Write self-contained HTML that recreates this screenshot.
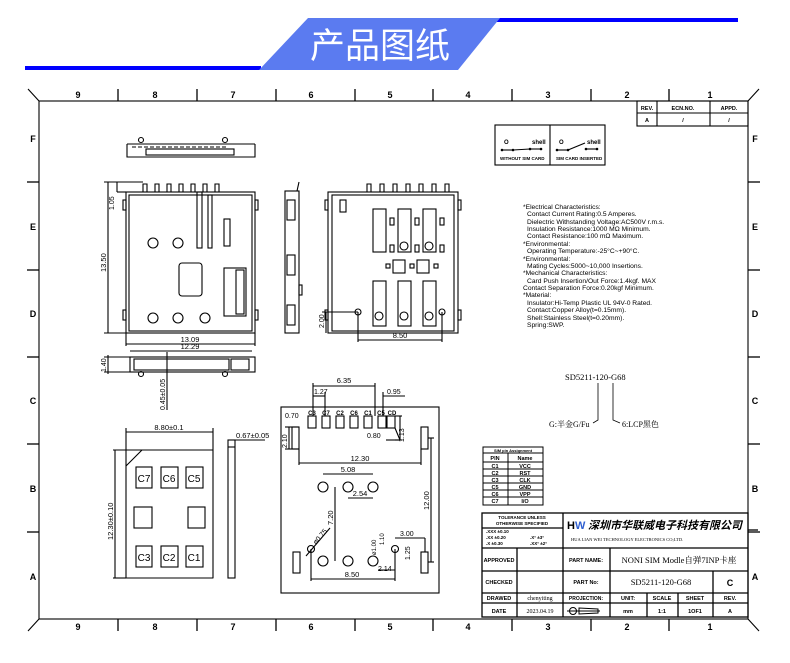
<!DOCTYPE html>
<html><head><meta charset="utf-8"><style>
html,body{margin:0;padding:0;background:#fff;}
svg{display:block;}
text{font-family:"Liberation Sans","Noto Sans CJK SC",sans-serif;fill:#000;}
</style></head><body>
<svg width="790" height="663" viewBox="0 0 790 663" xmlns="http://www.w3.org/2000/svg">
<!-- header -->
<rect x="25" y="66" width="236" height="4" fill="#0000ff"/>
<rect x="488" y="18" width="250" height="4" fill="#0000ff"/>
<polygon points="308,18 500,18 458,70 259,70" fill="#5b7bf0"/>
<text x="380" y="58" font-size="35" text-anchor="middle" style="fill:#fff;font-family:'Noto Sans CJK SC',sans-serif">产品图纸</text>

<g stroke="#000" fill="none" stroke-width="1.1">
<!-- frame -->
<rect x="39" y="101" width="709" height="518"/>
<line x1="28" y1="89" x2="39" y2="101"/><line x1="759" y1="89" x2="748" y2="101"/>
<line x1="28" y1="631" x2="39" y2="619"/><line x1="759" y1="631" x2="748" y2="619"/>
<g stroke-width="1.3">
<line x1="118" y1="89" x2="118" y2="101"/><line x1="197" y1="89" x2="197" y2="101"/><line x1="276" y1="89" x2="276" y2="101"/><line x1="355" y1="89" x2="355" y2="101"/><line x1="433" y1="89" x2="433" y2="101"/><line x1="512" y1="89" x2="512" y2="101"/><line x1="591" y1="89" x2="591" y2="101"/><line x1="669" y1="89" x2="669" y2="101"/>
<line x1="118" y1="619" x2="118" y2="631"/><line x1="197" y1="619" x2="197" y2="631"/><line x1="276" y1="619" x2="276" y2="631"/><line x1="355" y1="619" x2="355" y2="631"/><line x1="433" y1="619" x2="433" y2="631"/><line x1="512" y1="619" x2="512" y2="631"/><line x1="591" y1="619" x2="591" y2="631"/><line x1="669" y1="619" x2="669" y2="631"/>
<line x1="27" y1="182" x2="39" y2="182"/><line x1="27" y1="270" x2="39" y2="270"/><line x1="27" y1="357" x2="39" y2="357"/><line x1="27" y1="444" x2="39" y2="444"/><line x1="27" y1="532" x2="39" y2="532"/>
<line x1="748" y1="182" x2="760" y2="182"/><line x1="748" y1="270" x2="760" y2="270"/><line x1="748" y1="357" x2="760" y2="357"/><line x1="748" y1="444" x2="760" y2="444"/><line x1="748" y1="532" x2="760" y2="532"/>
</g>
<!-- rev table -->
<rect x="637" y="101" width="111" height="25"/>
<line x1="637" y1="113" x2="748" y2="113"/><line x1="657" y1="101" x2="657" y2="126"/><line x1="710" y1="101" x2="710" y2="126"/>
<!-- switch box -->
<rect x="495" y="125" width="110" height="40"/><line x1="550" y1="125" x2="550" y2="165"/>
<line x1="502" y1="150" x2="513" y2="150"/><line x1="513" y1="150" x2="530" y2="149"/><line x1="530" y1="149" x2="541" y2="149"/>
<line x1="557" y1="150" x2="568" y2="150"/><line x1="568" y1="150" x2="585" y2="143"/><line x1="586" y1="149" x2="597" y2="149"/>
</g>
<g font-size="6" font-weight="bold">
<text x="504" y="144">O</text><text x="532" y="144">shell</text><text x="559" y="144">O</text><text x="587" y="144">shell</text>
<text x="500" y="160" font-size="4.5">WITHOUT SIM CARD</text><text x="556" y="160" font-size="4.5">SIM CARD INSERTED</text>
</g>
<g fill="#000"><circle cx="502" cy="150" r="1.3"/><circle cx="513" cy="150" r="1.3"/><circle cx="530" cy="149" r="1.3"/><circle cx="541" cy="149" r="1.3"/><circle cx="557" cy="150" r="1.3"/><circle cx="568" cy="150" r="1.3"/><circle cx="586" cy="149" r="1.3"/><circle cx="597" cy="149" r="1.3"/></g>

<g font-size="9" font-weight="bold" text-anchor="middle">
<text x="78" y="98">9</text><text x="155" y="98">8</text><text x="233" y="98">7</text><text x="311" y="98">6</text><text x="390" y="98">5</text><text x="468" y="98">4</text><text x="548" y="98">3</text><text x="627" y="98">2</text><text x="710" y="98">1</text>
<text x="78" y="630">9</text><text x="155" y="630">8</text><text x="233" y="630">7</text><text x="311" y="630">6</text><text x="390" y="630">5</text><text x="468" y="630">4</text><text x="548" y="630">3</text><text x="627" y="630">2</text><text x="710" y="630">1</text>
<text x="33" y="142">F</text><text x="33" y="230">E</text><text x="33" y="317">D</text><text x="33" y="404">C</text><text x="33" y="492">B</text><text x="33" y="580">A</text>
<text x="755" y="142">F</text><text x="755" y="230">E</text><text x="755" y="317">D</text><text x="755" y="404">C</text><text x="755" y="492">B</text><text x="755" y="580">A</text>
</g>
<g font-size="5.5" font-weight="bold" text-anchor="middle">
<text x="647" y="110">REV.</text><text x="683" y="110">ECN.NO.</text><text x="729" y="110">APPD.</text>
<text x="647" y="122">A</text><text x="683" y="122">/</text><text x="729" y="122">/</text>
</g>

<!-- spec text -->
<g font-size="6.7">
<text x="523" y="209">*Electrical Characteristics:</text>
<text x="527" y="216">Contact Current Rating:0.5 Amperes.</text>
<text x="527" y="224">Dielectric Withstanding Voltage:AC500V r.m.s.</text>
<text x="527" y="231">Insulation Resistance:1000 MΩ Minimum.</text>
<text x="527" y="238">Contact Resistance:100 mΩ Maximum.</text>
<text x="523" y="246">*Environmental:</text>
<text x="527" y="253">Operating Temperature:-25°C~+90°C.</text>
<text x="523" y="261">*Environmental:</text>
<text x="527" y="268">Mating Cycles:5000~10,000 Insertions.</text>
<text x="523" y="275">*Mechanical Characteristics:</text>
<text x="527" y="283">Card Push Insertion/Out Force:1.4kgf. MAX</text>
<text x="523" y="290">Contact Separation Force:0.20kgf Minimum.</text>
<text x="523" y="297">*Material:</text>
<text x="527" y="305">Insulator:Hi-Temp Plastic UL 94V-0 Rated.</text>
<text x="527" y="312">Contact:Copper Alloy(t=0.15mm).</text>
<text x="527" y="320">Shell:Stainless Steel(t=0.20mm).</text>
<text x="527" y="327">Spring:SWP.</text>
</g>
<g font-size="8.5">
<text x="565" y="380" style="font-family:'Liberation Serif',serif">SD5211-120-G68</text>
<text x="549" y="427" style="font-family:'Liberation Serif','Noto Serif CJK SC',serif" font-size="8">G:半金G/Fu</text>
<text x="622" y="427" style="font-family:'Liberation Serif','Noto Serif CJK SC',serif" font-size="8">6:LCP黑色</text>
</g>
<g stroke="#000" fill="none" stroke-width="0.8">
<path d="M598 383 L598 420 L593 423"/><path d="M613 383 L613 420 L620 423"/>
</g>

<!-- pin table -->
<g stroke="#000" fill="none" stroke-width="1">
<rect x="483" y="447" width="60" height="58"/>
<line x1="483" y1="453" x2="543" y2="453"/><line x1="483" y1="462" x2="543" y2="462"/>
<line x1="483" y1="469" x2="543" y2="469"/><line x1="483" y1="476" x2="543" y2="476"/><line x1="483" y1="483" x2="543" y2="483"/><line x1="483" y1="490" x2="543" y2="490"/><line x1="483" y1="497" x2="543" y2="497"/>
<line x1="508" y1="453" x2="508" y2="505"/>
</g>
<g font-size="5.5" font-weight="bold" text-anchor="middle">
<text x="513" y="452" font-size="4">SIM pin Assignment</text>
<text x="495" y="460">PIN</text><text x="525" y="460">Name</text>
<text x="495" y="468">C1</text><text x="525" y="468">VCC</text>
<text x="495" y="475">C2</text><text x="525" y="475">RST</text>
<text x="495" y="482">C3</text><text x="525" y="482">CLK</text>
<text x="495" y="489">C5</text><text x="525" y="489">GND</text>
<text x="495" y="496">C6</text><text x="525" y="496">VPP</text>
<text x="495" y="503">C7</text><text x="525" y="503">I/O</text>
</g>

<!-- title block -->
<g stroke="#000" fill="none" stroke-width="1.3">
<rect x="482" y="513" width="266" height="104"/>
<line x1="563" y1="513" x2="563" y2="617"/>
<line x1="482" y1="528" x2="563" y2="528"/>
<line x1="482" y1="548" x2="748" y2="548"/><line x1="482" y1="571" x2="748" y2="571"/><line x1="482" y1="593" x2="748" y2="593"/><line x1="482" y1="603" x2="748" y2="603"/>
<line x1="517" y1="548" x2="517" y2="617"/><line x1="610" y1="548" x2="610" y2="617"/>
<line x1="713" y1="571" x2="713" y2="617"/><line x1="647" y1="593" x2="647" y2="617"/><line x1="678" y1="593" x2="678" y2="617"/>
<line x1="748" y1="530" x2="758" y2="530"/>
</g>
<g font-size="5.5" font-weight="bold">
<text x="522" y="519" text-anchor="middle" font-size="4.5">TOLERANCE UNLESS</text>
<text x="522" y="525" text-anchor="middle" font-size="4.5">OTHERWISE SPECIFIED</text>
<text x="486" y="533" font-size="4.5">.XXX ±0.10</text><text x="486" y="539" font-size="4.5">.XX  ±0.20</text><text x="486" y="545" font-size="4.5">.X   ±0.30</text>
<text x="530" y="539" font-size="4.5">.X°  ±3°</text><text x="530" y="545" font-size="4.5">.XX° ±2°</text>
<text x="499" y="562" text-anchor="middle">APPROVED</text>
<text x="499" y="584" text-anchor="middle">CHECKED</text>
<text x="499" y="600" text-anchor="middle">DRAWED</text>
<text x="499" y="613" text-anchor="middle">DATE</text>
<text x="586" y="562" text-anchor="middle">PART NAME:</text>
<text x="586" y="584" text-anchor="middle">PART No:</text>
<text x="586" y="600" text-anchor="middle" font-size="5">PROJECTION:</text>
<text x="628" y="600" text-anchor="middle">UNIT:</text><text x="662" y="600" text-anchor="middle">SCALE</text><text x="695" y="600" text-anchor="middle">SHEET</text><text x="730" y="600" text-anchor="middle">REV.</text>
<text x="628" y="613" text-anchor="middle">mm</text><text x="662" y="613" text-anchor="middle">1:1</text><text x="695" y="613" text-anchor="middle">1OF1</text><text x="730" y="613" text-anchor="middle">A</text>
<text x="730" y="586" text-anchor="middle" font-size="9">C</text>
</g>
<g font-size="6">
<text x="540" y="600" text-anchor="middle" style="font-family:'Liberation Serif',serif">chenyiting</text>
<text x="540" y="613" text-anchor="middle" style="font-family:'Liberation Serif',serif">2023.04.19</text>
<text x="679" y="563" text-anchor="middle" font-size="8.5" style="font-family:'Liberation Serif','Noto Serif CJK SC',serif">NONI SIM Modle自弹7INP卡座</text>
<text x="661" y="585" text-anchor="middle" font-size="8.5" style="font-family:'Liberation Serif',serif">SD5211-120-G68</text>
<text x="571" y="541" font-size="4.5" style="font-family:'Liberation Serif',serif">HUA LIAN WEI TECHNOLOGY ELECTRONICS CO;LTD.</text>
</g>
<text x="567" y="529" font-size="11" font-weight="bold">H</text><text x="575" y="529" font-size="11" font-weight="bold" style="fill:#2f5fd0">W</text>
<text x="588" y="529" font-size="11" font-weight="bold" style="font-family:'Noto Sans CJK SC',sans-serif;font-style:italic">深圳市华联威电子科技有限公司</text>
<g stroke="#000" fill="none" stroke-width="1"><circle cx="573" cy="611" r="3.5"/><line x1="567" y1="611" x2="600" y2="611"/><path d="M579 608 L598 609 L598 613 L579 614 Z"/></g>

<!-- drawings -->
<g stroke="#000" fill="none" stroke-width="1.1">
<!-- top view -->
<path d="M127 144 L127 157 L255 157 L255 144"/><line x1="127" y1="144" x2="255" y2="144"/>
<rect x="146" y="149" width="88" height="6"/>
<circle cx="141" cy="140" r="2.5"/><circle cx="225" cy="140" r="2.5"/>
<line x1="132" y1="147" x2="228" y2="147" stroke-dasharray="4,2"/>
<!-- front view -->
<rect x="126" y="192" width="129" height="141"/>
<rect x="129" y="195" width="123" height="136"/>
<path d="M143 192 v-8 h4 v8 M155 192 v-8 h4 v8 M167 192 v-8 h4 v8 M179 192 v-8 h4 v8 M191 192 v-8 h4 v8 M203 192 v-8 h4 v8 M215 192 v-8 h4 v8"/>
<rect x="197" y="192" width="5" height="56"/><rect x="208" y="195" width="4" height="53"/>
<rect x="224" y="219" width="6" height="27"/>
<rect x="224" y="268" width="22" height="48"/><rect x="236" y="270" width="8" height="44"/>
<rect x="179" y="263" width="23" height="33" rx="3"/>
<circle cx="153" cy="243" r="5"/><circle cx="178" cy="243" r="5"/><circle cx="153" cy="318" r="5"/><circle cx="178" cy="318" r="5"/><circle cx="205" cy="318" r="5"/>
<rect x="123" y="200" width="3" height="10"/><rect x="123" y="310" width="3" height="10"/><rect x="255" y="200" width="3" height="10"/><rect x="255" y="310" width="3" height="10"/>
<!-- dims front -->
<line x1="104" y1="182" x2="143" y2="182"/><line x1="104" y1="333" x2="126" y2="333"/><line x1="108" y1="182" x2="108" y2="333"/>
<line x1="117" y1="182" x2="117" y2="192"/><line x1="117" y1="192" x2="126" y2="192"/>
<line x1="126" y1="333" x2="126" y2="346"/><line x1="255" y1="333" x2="255" y2="346"/><line x1="126" y1="344" x2="255" y2="344"/>
<line x1="130" y1="351" x2="252" y2="351"/>
<!-- bottom side view -->
<rect x="130" y="357" width="125" height="15"/><rect x="134" y="359" width="95" height="11"/>
<rect x="231" y="359" width="18" height="11"/>
<line x1="104" y1="357" x2="130" y2="357"/><line x1="104" y1="372" x2="130" y2="372"/><line x1="108" y1="355" x2="108" y2="374"/>
<circle cx="141" cy="374" r="2.5"/><circle cx="225" cy="374" r="2.5"/>
<line x1="167" y1="352" x2="167" y2="410"/>
<!-- side view -->
<rect x="285" y="191" width="14" height="142"/>
<rect x="287" y="200" width="8" height="20"/><rect x="287" y="255" width="8" height="20"/><rect x="287" y="305" width="8" height="20"/>
<path d="M297 191 L299 182"/>
<rect x="299" y="285" width="3" height="10"/>
<!-- back view -->
<rect x="328" y="192" width="130" height="141"/>
<rect x="332" y="195" width="122" height="136"/>
<path d="M367 192 v-8 h4 v8 M380 192 v-8 h4 v8 M393 192 v-8 h4 v8 M406 192 v-8 h4 v8 M419 192 v-8 h4 v8 M432 192 v-8 h4 v8 M445 192 v-8 h4 v8"/>
<rect x="373" y="209" width="13" height="43"/><rect x="398" y="209" width="13" height="43"/><rect x="423" y="209" width="13" height="43"/>
<rect x="373" y="281" width="13" height="45"/><rect x="398" y="281" width="13" height="45"/><rect x="423" y="281" width="13" height="45"/>
<circle cx="379" cy="316" r="4"/><circle cx="404" cy="316" r="4"/><circle cx="429" cy="316" r="4"/>
<circle cx="404" cy="246" r="4"/><circle cx="429" cy="246" r="4"/>
<rect x="390" y="218" width="4" height="7"/><rect x="415" y="218" width="4" height="7"/><rect x="440" y="218" width="4" height="7"/>
<rect x="390" y="245" width="4" height="7"/><rect x="415" y="245" width="4" height="7"/><rect x="440" y="245" width="4" height="7"/>
<rect x="393" y="260" width="12" height="13"/><rect x="417" y="260" width="12" height="13"/>
<rect x="386" y="264" width="4" height="4"/><rect x="410" y="264" width="4" height="4"/><rect x="434" y="264" width="4" height="4"/>
<rect x="340" y="200" width="6" height="12"/>
<circle cx="358" cy="312" r="3"/><circle cx="442" cy="312" r="3"/>
<rect x="325" y="200" width="3" height="10"/><rect x="325" y="310" width="3" height="10"/><rect x="458" y="200" width="3" height="10"/><rect x="458" y="310" width="3" height="10"/>
<line x1="322" y1="312" x2="358" y2="312"/><line x1="326" y1="333" x2="326" y2="312"/>
<line x1="358" y1="312" x2="358" y2="342"/><line x1="442" y1="312" x2="442" y2="342"/><line x1="358" y1="340" x2="442" y2="340"/>

<!-- sim card -->
<path d="M142 450 L213 450 L213 578 L126 578 L126 466 Z" stroke-linejoin="round"/>
<line x1="126" y1="428" x2="126" y2="466"/><line x1="213" y1="428" x2="213" y2="450"/><line x1="126" y1="432" x2="213" y2="432"/>
<line x1="113" y1="450" x2="142" y2="450"/><line x1="113" y1="578" x2="126" y2="578"/><line x1="115" y1="450" x2="115" y2="578"/>
<rect x="136" y="467" width="16" height="21"/><rect x="161" y="467" width="17" height="21"/><rect x="186" y="467" width="17" height="21"/>
<rect x="134" y="507" width="18" height="21"/><rect x="188" y="507" width="17" height="21"/>
<rect x="136" y="546" width="16" height="21"/><rect x="161" y="546" width="17" height="21"/><rect x="186" y="546" width="17" height="21"/>
<rect x="228" y="440" width="7" height="138"/><line x1="228" y1="447" x2="235" y2="447"/>
<line x1="235" y1="440" x2="265" y2="440"/>

<!-- footprint -->
<rect x="281" y="407" width="158" height="186"/>
<rect x="308" y="416" width="8" height="12"/><rect x="322" y="416" width="8" height="12"/><rect x="336" y="416" width="8" height="12"/><rect x="350" y="416" width="8" height="12"/><rect x="364" y="416" width="8" height="12"/><rect x="378" y="416" width="8" height="12"/><rect x="387" y="416" width="8" height="12"/>
<rect x="292" y="427" width="7" height="22"/><rect x="421" y="427" width="7" height="22"/>
<rect x="293" y="552" width="7" height="21"/><rect x="421" y="552" width="7" height="21"/>
<line x1="313" y1="383" x2="313" y2="416"/><line x1="375" y1="383" x2="375" y2="416"/><line x1="313" y1="386" x2="375" y2="386"/>
<line x1="325" y1="392" x2="325" y2="416"/><line x1="313" y1="396" x2="325" y2="396"/>
<line x1="383" y1="392" x2="383" y2="416"/><line x1="383" y1="396" x2="405" y2="396"/>
<line x1="285" y1="427" x2="299" y2="427"/><line x1="285" y1="449" x2="299" y2="449"/><line x1="289" y1="427" x2="289" y2="449"/>
<line x1="386" y1="440" x2="395" y2="440"/><line x1="395" y1="428" x2="400" y2="440"/><line x1="395" y1="440" x2="400" y2="440"/>
<line x1="395" y1="416" x2="402" y2="416"/><line x1="395" y1="440" x2="402" y2="440"/><line x1="400" y1="416" x2="400" y2="440"/>
<line x1="299" y1="449" x2="299" y2="465"/><line x1="421" y1="449" x2="421" y2="465"/><line x1="299" y1="463" x2="421" y2="463"/>
<line x1="323" y1="474" x2="373" y2="474"/><line x1="348" y1="498" x2="373" y2="498"/>
<circle cx="323" cy="487" r="5"/><circle cx="348" cy="487" r="5"/><circle cx="373" cy="487" r="5"/>
<circle cx="323" cy="561" r="5"/><circle cx="348" cy="561" r="5"/><circle cx="373" cy="561" r="5"/>
<circle cx="311" cy="549" r="3.5"/><circle cx="395" cy="549" r="3.5"/>
<line x1="335" y1="487" x2="335" y2="561"/><line x1="306" y1="556" x2="330" y2="528"/>
<line x1="311" y1="549" x2="311" y2="581"/><line x1="395" y1="549" x2="395" y2="581"/><line x1="311" y1="579" x2="395" y2="579"/>
<line x1="395" y1="538" x2="425" y2="538"/><line x1="425" y1="538" x2="425" y2="552"/>
<line x1="378" y1="570" x2="395" y2="570"/>
<line x1="428" y1="438" x2="434" y2="438"/><line x1="428" y1="562" x2="434" y2="562"/><line x1="431" y1="438" x2="431" y2="562"/>
</g>
<g font-size="7.5">
<text x="114" y="210" transform="rotate(-90 114 210)" font-size="7">1.05</text>
<text x="106" y="272" transform="rotate(-90 106 272)">13.50</text>
<text x="190" y="342" text-anchor="middle">13.09</text>
<text x="190" y="349" text-anchor="middle">12.29</text>
<text x="106" y="372" transform="rotate(-90 106 372)" font-size="7">1.40</text>
<text x="165" y="410" transform="rotate(-90 165 410)" font-size="7">0.45±0.05</text>
<text x="324" y="328" transform="rotate(-90 324 328)" font-size="7">2.00</text>
<text x="400" y="338" text-anchor="middle">8.50</text>
<text x="169" y="430" text-anchor="middle">8.80±0.1</text>
<text x="113" y="540" transform="rotate(-90 113 540)">12.30±0.10</text>
<text x="236" y="438">0.67±0.05</text>
<text x="344" y="383" text-anchor="middle">6.35</text>
<text x="314" y="394" font-size="7">1.27</text>
<text x="387" y="394" font-size="7">0.95</text>
<text x="285" y="418" font-size="7">0.70</text>
<text x="287" y="448" transform="rotate(-90 287 448)" font-size="7">2.10</text>
<text x="367" y="438" font-size="7">0.80</text>
<text x="404" y="442" transform="rotate(-90 404 442)" font-size="7">1.13</text>
<text x="360" y="461" text-anchor="middle">12.30</text>
<text x="348" y="472" text-anchor="middle">5.08</text>
<text x="360" y="496" text-anchor="middle">2.54</text>
<text x="333" y="525" transform="rotate(-90 333 525)">7.20</text>
<text x="316" y="545" transform="rotate(-50 316 545)" font-size="7">ø0.75</text>
<text x="376" y="555" transform="rotate(-90 376 555)" font-size="6">ø1.00</text>
<text x="384" y="545" transform="rotate(-90 384 545)" font-size="6">1.10</text>
<text x="378" y="571" font-size="7">2.14</text>
<text x="352" y="577" text-anchor="middle">8.50</text>
<text x="400" y="536" font-size="7">3.00</text>
<text x="410" y="560" transform="rotate(-90 410 560)" font-size="7">1.25</text>
<text x="429" y="510" transform="rotate(-90 429 510)">12.00</text>
</g>
<g font-size="6" font-weight="bold" text-anchor="middle">
<text x="312" y="415">C3</text><text x="326" y="415">C7</text><text x="340" y="415">C2</text><text x="354" y="415">C6</text><text x="368" y="415">C1</text><text x="381" y="415">C5</text><text x="392" y="415">CD</text>
</g>
<g font-size="10" text-anchor="middle">
<text x="144" y="482">C7</text><text x="169" y="482">C6</text><text x="194" y="482">C5</text>
<text x="144" y="561">C3</text><text x="169" y="561">C2</text><text x="194" y="561">C1</text>
</g>
</svg>
</body></html>
